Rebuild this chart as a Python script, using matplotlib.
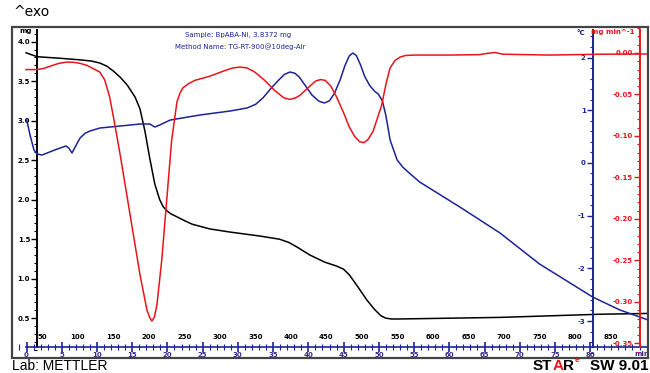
import matplotlib
matplotlib.use("Agg")
import matplotlib.pyplot as plt
from matplotlib.patches import Rectangle
from matplotlib.ticker import MultipleLocator, FormatStrFormatter

plt.rcParams["axes.unicode_minus"] = False
plt.rcParams["font.family"] = ["DejaVu Sans"]

# time axis (min)
time_ticks = list(range(0, 85, 5))
temp_labels = [50, 100, 150, 200, 250, 300, 350, 400, 450, 500, 550, 600, 650, 700, 750, 800, 850]

# TG curve (mg)
tg_t = [-0.07, 1.5, 4.8, 7.6, 9.2, 10.4, 11.4, 12.3, 13.3, 14.3, 15.4, 16.1, 16.8, 17.5,
        18.2, 18.9, 19.4, 19.9, 20.5, 21.2, 22.3, 23.5, 26.0, 28.9, 33.1, 35.9, 37.2,
        38.4, 40.2, 42.3, 44.0, 45.0, 45.8, 47.0, 48.3, 49.4, 50.3, 51.0, 51.8, 53.0,
        67.2, 81.4, 88.2]
tg_mg = [3.86, 3.81, 3.79, 3.77, 3.755, 3.73, 3.69, 3.63, 3.55, 3.45, 3.30, 3.15, 2.87,
         2.52, 2.20, 2.00, 1.91, 1.86, 1.82, 1.79, 1.74, 1.69, 1.63, 1.59, 1.54, 1.50, 1.46,
         1.40, 1.30, 1.21, 1.16, 1.12, 1.05, 0.90, 0.73, 0.61, 0.53, 0.50, 0.49, 0.49,
         0.51, 0.55, 0.56]

# DTG curve (mg min^-1)
dtg_t = [-0.07, 1.5, 2.5, 3.5, 4.6, 5.7, 6.6, 7.6, 8.6, 9.5, 10.4, 11.1, 11.8, 12.55,
         13.3, 14.7, 16.1, 17.1, 17.5, 17.8, 18.15, 18.5, 19.2, 19.9, 20.6, 21.35, 21.8,
         22.2, 23.0, 23.9, 26.0, 28.2, 29.3, 30.3, 31.3, 32.4, 33.8, 35.2, 36.5, 37.4,
         38.2, 38.8, 40.2, 41.0, 41.7, 42.4, 43.2, 44.0, 45.0, 45.8, 46.6, 47.3, 47.9,
         48.5, 49.2, 50.4, 51.0, 51.6, 52.3, 53.0, 53.8, 55.1, 60.1, 64.3, 65.4, 66.5,
         67.6, 74.3, 81.4, 88.2]
dtg_v = [-0.020, -0.020, -0.0185, -0.0155, -0.0125, -0.011, -0.0112, -0.0125, -0.015,
         -0.019, -0.023, -0.0325, -0.053, -0.087, -0.123, -0.195, -0.267, -0.310, -0.319,
         -0.323, -0.318, -0.304, -0.249, -0.177, -0.105, -0.059, -0.048, -0.042, -0.037,
         -0.033, -0.028, -0.021, -0.018, -0.017, -0.018, -0.023, -0.033, -0.045, -0.054,
         -0.056, -0.054, -0.051, -0.040, -0.034, -0.032, -0.033, -0.040, -0.053, -0.072,
         -0.089, -0.101, -0.107, -0.108, -0.104, -0.094, -0.063, -0.038, -0.018, -0.009,
         -0.005, -0.003, -0.0025, -0.0025, -0.002, -0.0005, 0.0006, -0.0015, -0.0025,
         -0.0015, -0.0012]

# DSC curve (deg C axis)
dsc_t = [0.03, 0.5, 1.06, 1.5, 2.2, 4.0, 5.6, 6.0, 6.45, 6.9, 7.6, 8.3, 9.0, 10.4, 13.3,
         16.1, 17.5, 18.2, 18.9, 20.4, 24.6, 28.9, 31.3, 32.5, 33.6, 34.6, 35.7, 36.6,
         37.4, 38.1, 38.7, 39.5, 40.5, 41.5, 42.3, 43.0, 43.7, 44.5, 45.2, 45.8, 46.3,
         46.8, 47.4, 48.0, 48.7, 49.4, 49.9, 50.5, 51.0, 51.6, 52.6, 53.4, 54.3, 55.8,
         61.5, 67.2, 72.8, 80.35, 84.2, 88.2]
dsc_v = [0.814, 0.529, 0.245, 0.169, 0.150, 0.245, 0.321, 0.283, 0.188, 0.302, 0.473,
         0.560, 0.605, 0.662, 0.700, 0.738, 0.738, 0.681, 0.719, 0.814, 0.909, 0.985,
         1.042, 1.110, 1.240, 1.400, 1.560, 1.680, 1.725, 1.700, 1.630, 1.480, 1.290,
         1.170, 1.137, 1.180, 1.320, 1.573, 1.850, 2.030, 2.085, 2.040, 1.860, 1.640,
         1.470, 1.360, 1.310, 1.180, 0.900, 0.435, 0.055, -0.080, -0.190, -0.363, -0.837,
         -1.330, -1.918, -2.545, -2.790, -2.980]

BLUE = "#1b2494"
RED = "#e8141c"
PURPLE = "#3b2a8c"

W, H = 650, 373
fig = plt.figure(figsize=(6.5, 3.73), dpi=100)


def fx(x):
    return x / W


def fy(y):
    return 1 - y / H


# frame box
fig.patches.append(Rectangle((fx(12), fy(358)), fx(648) - fx(12), fy(27) - fy(358),
                             transform=fig.transFigure, fill=False, lw=1.6,
                             edgecolor="#444444", zorder=0))

ax = fig.add_axes([fx(12), fy(358), fx(648) - fx(12), fy(27) - fy(358)])
ax.patch.set_visible(False)
ax.set_xlim(-2.06, 88.2)
ax.set_ylim(-0.004, 4.186)
for s in ["top", "right"]:
    ax.spines[s].set_visible(False)
ax.spines["left"].set_position(("data", 1.5))
ax.spines["left"].set_bounds(0.135, 4.148)
ax.spines["left"].set_linewidth(1.4)
ax.spines["bottom"].set_position(("data", 0.135))
ax.spines["bottom"].set_bounds(-0.07, 88.2)
ax.spines["bottom"].set_color(BLUE)
ax.spines["bottom"].set_linewidth(1.2)
ax.yaxis.set_minor_locator(MultipleLocator(0.1))
ax.yaxis.set_major_formatter(FormatStrFormatter("%.1f"))
ax.set_yticks([0.5, 1.0, 1.5, 2.0, 2.5, 3.0, 3.5, 4.0])
ax.tick_params(axis="y", which="major", length=4, width=1, labelsize=5, pad=1)
ax.tick_params(axis="y", which="minor", length=2.5, width=0.8)
ax.set_xticks(time_ticks)
ax.xaxis.set_minor_locator(MultipleLocator(1))
ax.tick_params(axis="x", which="major", direction="inout", length=7, width=1.2,
               color=BLUE, labelcolor=PURPLE, labelsize=5, pad=0)
ax.tick_params(axis="x", which="minor", direction="inout", length=4, width=0.8, color=BLUE)
for lab in ax.get_xticklabels() + ax.get_yticklabels():
    lab.set_fontweight("bold")
ax.text(87.3, 0.135 - 0.055, "min", color=PURPLE, fontsize=5, fontweight="bold",
        ha="center", va="top")
for T in temp_labels:
    ax.text((T - 28.2) / 9.91, 0.262, str(T), fontsize=5, fontweight="bold",
            ha="center", va="center")
ax.text(0.8, 4.13, "mg", fontsize=5, fontweight="bold", ha="right", va="center")
ax.plot(tg_t, tg_mg, color="black", lw=1.1, zorder=3)

# blue axis
axb = ax.twinx()
axb.set_ylim(-3.702, 2.579)
for s in ["top", "right", "bottom"]:
    axb.spines[s].set_visible(False)
axb.spines["left"].set_visible(True)
axb.spines["left"].set_position(("data", 80.35))
axb.spines["left"].set_bounds(-3.493, 2.522)
axb.spines["left"].set_color(BLUE)
axb.spines["left"].set_linewidth(1.4)
axb.yaxis.tick_left()
axb.set_yticks([-3, -2, -1, 0, 1, 2])
axb.yaxis.set_minor_locator(MultipleLocator(0.2))
axb.tick_params(axis="y", which="major", length=4, width=1, color=BLUE,
                labelcolor=BLUE, labelsize=5, pad=1)
axb.tick_params(axis="y", which="minor", length=2.5, width=0.8, color=BLUE)
for lab in axb.get_yticklabels():
    lab.set_fontweight("bold")
axb.text(79.3, 2.46, "°C", color=BLUE, fontsize=5, fontweight="bold", ha="right", va="center")
axb.plot(dsc_t, dsc_v, color=BLUE, lw=1.1, zorder=3)

# red axis
axr = ax.twinx()
axr.set_ylim(-0.3675, 0.0313)
for s in ["top", "right", "bottom"]:
    axr.spines[s].set_visible(False)
axr.spines["left"].set_visible(True)
axr.spines["left"].set_position(("data", 87.0))
axr.spines["left"].set_bounds(-0.354, 0.0277)
axr.spines["left"].set_color(RED)
axr.spines["left"].set_linewidth(1.4)
axr.yaxis.tick_left()
axr.set_yticks([-0.35, -0.30, -0.25, -0.20, -0.15, -0.10, -0.05, 0.00])
axr.yaxis.set_major_formatter(FormatStrFormatter("%.2f"))
axr.yaxis.set_minor_locator(MultipleLocator(0.01))
axr.tick_params(axis="y", which="major", length=4, width=1, color=RED,
                labelcolor=RED, labelsize=5, pad=1)
axr.tick_params(axis="y", which="minor", length=2.5, width=0.8, color=RED)
for lab in axr.get_yticklabels():
    lab.set_fontweight("bold")
axr.text(86.3, 0.0255, "mg min^-1", color=RED, fontsize=5, fontweight="bold",
         ha="right", va="center")
axr.plot(dtg_t, dtg_v, color=RED, lw=1.1, zorder=3)

# header texts
fig.text(fx(238), fy(35), "Sample: BpABA-Ni, 3.8372 mg", color=BLUE, fontsize=5,
         ha="center", va="center")
fig.text(fx(240), fy(47), "Method Name: TG-RT-900@10deg-Air", color=BLUE, fontsize=5,
         ha="center", va="center")
fig.text(fx(14), fy(12), "^exo", fontsize=10, ha="left", va="center")
fig.text(fx(12), fy(366), "Lab: METTLER", fontsize=10, ha="left", va="center",
         family="Liberation Sans")

# STARe SW 9.01 logo text
fig.text(fx(648), fy(366), "SW 9.01", fontsize=11, ha="right", va="center",
         fontweight="bold", family="Liberation Sans")
renderer = fig.canvas.get_renderer()
x = 533
for piece, col, size, yy in [("ST", "black", 11, 366), ("A", RED, 11, 366),
                             ("R", "black", 11, 366), ("e", RED, 6, 361)]:
    t = fig.text(fx(x), fy(yy), piece, fontsize=size, ha="left", va="center", color=col,
                 fontweight="bold", family="Liberation Sans")
    x = t.get_window_extent(renderer).x1

fig.savefig("out.png", dpi=100)
